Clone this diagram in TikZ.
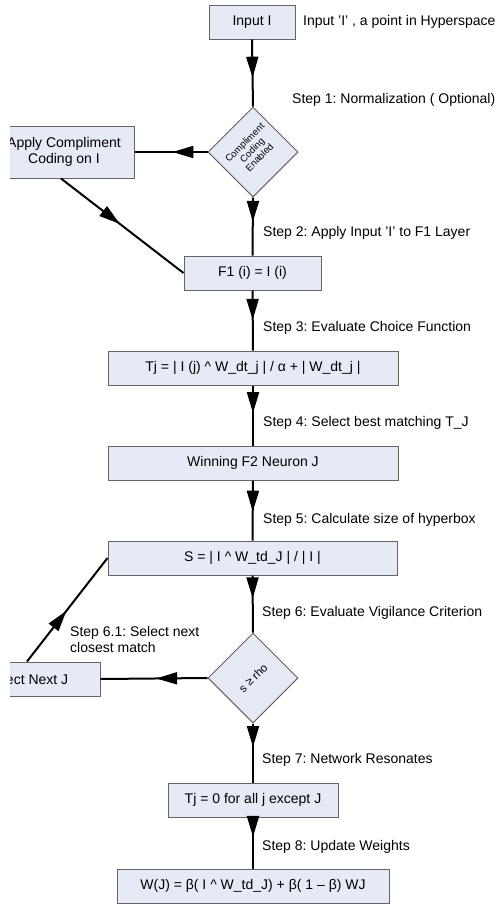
\documentclass[tikz,border=0pt]{standalone}
\usepackage{fontspec}
\setmainfont{Liberation Sans}
\usetikzlibrary{shapes.geometric,arrows.meta,decorations.markings}
\definecolor{boxfill}{RGB}{229,234,245}
\definecolor{boxline}{RGB}{100,100,100}
\tikzset{
  stepbox/.style={rectangle, draw=boxline, line width=1pt, fill=boxfill, inner sep=0pt, align=center, font=\fontsize{14}{16}\selectfont},
  decbox/.style={diamond, draw=boxline, line width=1pt, fill=boxfill, inner sep=0pt, minimum width=90pt, minimum height=90pt},
  lbl/.style={anchor=west, inner sep=0pt, font=\fontsize{14}{16}\selectfont},
  conn/.style={line width=2pt, black},
  midarrow/.style={postaction={decorate, decoration={markings, mark=at position #1 with {\arrow{Triangle[length=21pt,width=12pt]}}}}}
}
\begin{document}
\frenchspacing
\begin{tikzpicture}[x=1pt, y=-1pt]
\useasboundingbox (0,0) rectangle (499,906);
\clip (10,0) rectangle (499,906);
% boxes
\node[stepbox, minimum width=86pt, minimum height=34pt] (input) at (252,22) {Input I};
\node[decbox] (d1) at (253,152) {};
\node[rotate=45, align=center, font=\fontsize{9.5}{10.5}\selectfont, inner sep=0pt] (d1t) at (252,150) {Compliment\\Coding\\Enabled};
\node[stepbox, minimum width=140pt, minimum height=52pt] (comp) at (64,152) {Apply Compliment\\Coding on I};
\node[stepbox, minimum width=137pt, minimum height=34pt] (f1) at (252.5,273) {F1 (i) = I (i)};
\node[stepbox, minimum width=290pt, minimum height=34pt] (tj) at (253,368) {Tj = | I (j) \textasciicircum{} W\_dt\_j | / α + | W\_dt\_j |};
\node[stepbox, minimum width=290pt, minimum height=34pt] (win) at (253,463) {Winning F2 Neuron J};
\node[stepbox, minimum width=289pt, minimum height=34pt] (s) at (252.5,558) {S = | I \textasciicircum{} W\_td\_J | / | I |};
\node[decbox] (d2) at (253,678) {};
\node[rotate=45, font=\fontsize{11.5}{13}\selectfont, inner sep=0pt] (d2t) at (253,678) {s ≥ rho};
\node[stepbox, minimum width=146pt, minimum height=34pt] (next) at (27,679) {Select Next J};
\node[stepbox, minimum width=170pt, minimum height=34pt] (tz) at (253,800) {Tj = 0 for all j except J};
\node[stepbox, minimum width=272pt, minimum height=34pt] (wj) at (253,886) {W(J) = β( I \textasciicircum{} W\_td\_J) + β( 1 – β) WJ};
% labels
\node[lbl] (l0) at (303,22) {Input 'I' , a point in Hyperspace};
\node[lbl] (l1) at (292,100) {Step 1: Normalization ( Optional)};
\node[lbl] (l2) at (263,233) {Step 2: Apply Input 'I' to F1 Layer};
\node[lbl] (l3) at (263,328) {Step 3: Evaluate Choice Function};
\node[lbl] (l4) at (263,423) {Step 4: Select best matching T\_J};
\node[lbl] (l5) at (263,520) {Step 5: Calculate size of hyperbox};
\node[lbl] (l6) at (262,613) {Step 6: Evaluate Vigilance Criterion};
\node[lbl, align=left] (l61) at (70,639) {Step 6.1: Select next\\closest match};
\node[lbl] (l7) at (262,760) {Step 7: Network Resonates};
\node[lbl] (l8) at (262,847) {Step 8: Update Weights};
% connectors
\draw[conn, midarrow=0.57] (input.south) -- (d1.north);
\draw[conn, midarrow=0.48] (d1.west) -- (comp.east);
\draw[conn, midarrow=0.48] ([xshift=-3pt]comp.south) -- (f1.west);
\draw[conn, midarrow=0.42] (d1.south) -- (f1.north);
\draw[conn, midarrow=0.49] (f1.south) -- (tj.north);
\draw[conn, midarrow=0.46] (tj.south) -- (win.north);
\draw[conn, midarrow=0.52] (win.south) -- (s.north);
\draw[conn, midarrow=0.40] (s.south) -- (d2.north);
\draw[conn, midarrow=0.48] (d2.west) -- (next.east);
\draw[conn, midarrow=0.49] (next.north) -- (s.west);
\draw[conn, midarrow=0.40] (d2.south) -- (tz.north);
\draw[conn, midarrow=0.38] (tz.south) -- (wj.north);
\end{tikzpicture}
\end{document}
